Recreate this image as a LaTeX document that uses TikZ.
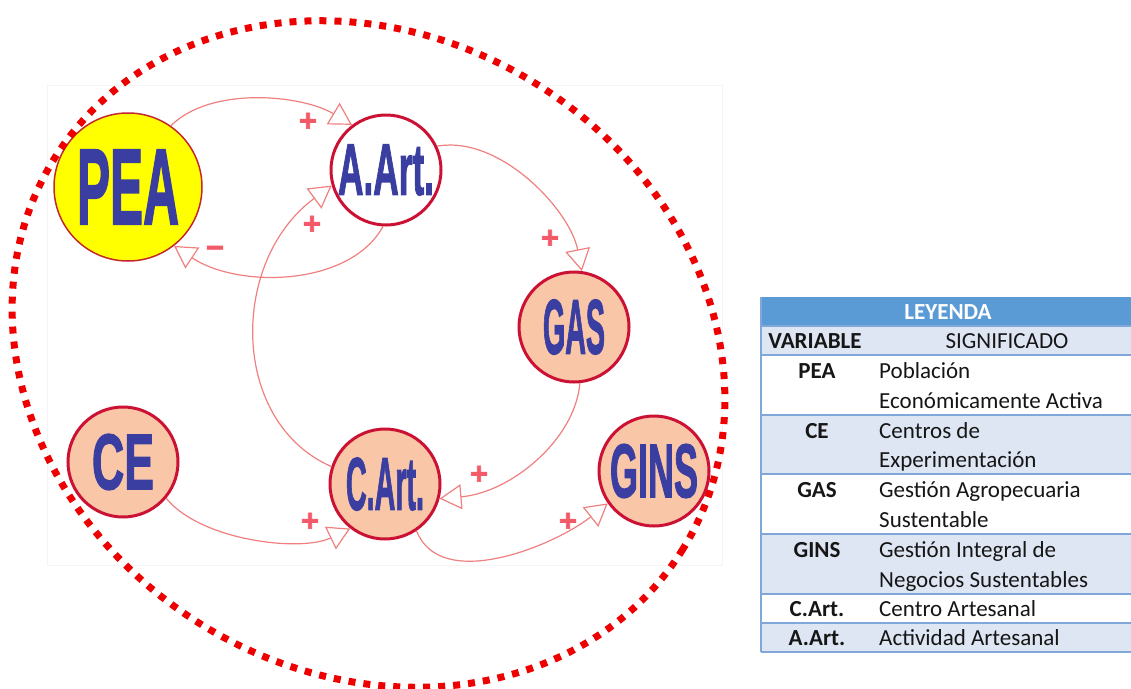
\documentclass[tikz,border=0pt]{standalone}
\usepackage{fontspec}
\setmainfont{Carlito}
\newfontfamily\nodefont{Liberation Sans}
\newfontfamily\heavyfont{Liberation Sans Bold}[FakeBold=2]
\usepackage{graphicx}
\usetikzlibrary{arrows.meta}
\definecolor{crim}{RGB}{204,18,52}
\definecolor{peach}{RGB}{250,198,168}
\definecolor{peayellow}{RGB}{255,255,0}
\definecolor{peaborder}{RGB}{196,40,40}
\definecolor{txtblue}{RGB}{57,62,160}
\definecolor{arrowc}{RGB}{240,128,128}
\definecolor{signc}{RGB}{242,90,104}
\definecolor{dotred}{RGB}{238,0,0}
\definecolor{hdrblue}{RGB}{91,155,213}
\definecolor{rowlight}{RGB}{222,230,243}
\definecolor{gridblue}{RGB}{128,166,218}
\definecolor{legtxt}{RGB}{22,22,22}
\definecolor{framegray}{RGB}{244,244,244}
\newcommand{\bigtxt}[3]{\resizebox{#1pt}{#2pt}{\heavyfont #3}}
\begin{document}
\begin{tikzpicture}[x=1pt,y=-1pt,
  varnode/.style={circle, draw=crim, line width=3pt, fill=peach, inner sep=0pt, minimum size=110pt, text=txtblue},
  link/.style={draw=arrowc, line width=1.2pt, -{Triangle[open, length=22pt, width=25pt]}},
  sign/.style={text=signc, inner sep=0pt, font=\heavyfont\fontsize{31}{31}\selectfont},
  legcell/.style={inner sep=0pt, text=legtxt, font=\fontsize{23}{23}\selectfont, anchor=base},
  legvar/.style={legcell, font=\bfseries\fontsize{23}{23}\selectfont},
  legdesc/.style={legcell, anchor=base west},
  gridline/.style={draw=gridblue, line width=2pt}
]
\useasboundingbox (0,0) rectangle (1131,688);
\fill[white] (0,0) rectangle (1131,688);

% faint frame of the diagram
\draw[framegray, line width=1pt] (47,85) rectangle (722,565);

% nodes
\node[circle, draw=peaborder, line width=1.5pt, fill=peayellow, inner sep=0pt, minimum size=148pt, text=txtblue] (PEA) at (128,187) {\bigtxt{102}{74}{PEA}};
\node[varnode, fill=white] (AArt) at (386,170) {\bigtxt{96}{50}{A.Art.}};
\node[varnode] (GAS) at (574,327) {\bigtxt{62}{54}{GAS}};
\node[varnode] (GINS) at (654,471) {\bigtxt{88}{53}{GINS}};
\node[varnode] (CArt) at (385,484) {\bigtxt{78}{52}{C.Art.}};
\node[varnode] (CE) at (123,462) {\bigtxt{62}{55}{CE}};

% connectors
\draw[link] (PEA.55) .. controls +(40,-40) and +(-50,-30) .. (AArt.127);
\draw[link] (AArt.267) .. controls +(-33,60) and +(65,43) .. (PEA.-52);
\draw[link] (CArt.162) .. controls +(-102,-45) and +(-102,75) .. (AArt.196);
\draw[link] (AArt.25) .. controls +(63,-11) and +(-12,-61) .. (GAS.82);
\draw[link] (GAS.-84) .. controls +(-5,57) and +(71,-6) .. (CArt.-15);
\draw[link] (CE.-40) .. controls +(34,42) and +(-50,24) .. (CArt.232);
\draw[link] (CArt.-56) .. controls +(24,62) and +(-53,42) .. (GINS.215);

% signs
\node[sign] (s1) at (308,122) {+};
\node[sign] (s2) at (215,252) {−};
\node[sign] (s3) at (312,225) {+};
\node[sign] (s4) at (550,239) {+};
\node[sign] (s5) at (479,475) {+};
\node[sign] (s6) at (310,522) {+};
\node[sign] (s7) at (568,522) {+};

% dotted boundary
\draw[dotred, line width=7pt, dash pattern=on 7pt off 8pt, rotate around={-31.8:(368.5,354)}]
  (368.5,354) ellipse [x radius=370, y radius=318];

% legend table
\fill[hdrblue] (761,297) rectangle (1131,326);
\fill[rowlight] (761,326) rectangle (1131,355);
\fill[white] (761,355) rectangle (1131,415);
\fill[rowlight] (761,415) rectangle (1131,474);
\fill[white] (761,474) rectangle (1131,534);
\fill[rowlight] (761,534) rectangle (1131,594);
\fill[white] (761,594) rectangle (1131,623);
\fill[rowlight] (761,623) rectangle (1131,652);
\foreach \yy in {326,355,415,474,534,594,623,652} {
  \draw[gridline] (761,\yy) -- (1131,\yy);
}
\draw[gridline] (761,297) -- (761,652);

\node[legvar, text=white] (hdr) at (948,319) {LEYENDA};
\node[legvar] (hvar) at (815,348) {VARIABLE};
\node[legcell] (hsig) at (1007,348) {SIGNIFICADO};

\node[legvar] (v1) at (817,378) {PEA};
\node[legdesc] (d1a) at (879,378) {Población};
\node[legdesc] (d1b) at (879,408) {Económicamente Activa};

\node[legvar] (v2) at (817,438) {CE};
\node[legdesc] (d2a) at (879,438) {Centros de};
\node[legdesc] (d2b) at (879,467) {Experimentación};

\node[legvar] (v3) at (817,497) {GAS};
\node[legdesc] (d3a) at (879,497) {Gestión Agropecuaria};
\node[legdesc] (d3b) at (879,527) {Sustentable};

\node[legvar] (v4) at (817,557) {GINS};
\node[legdesc] (d4a) at (879,557) {Gestión Integral de};
\node[legdesc] (d4b) at (879,587) {Negocios Sustentables};

\node[legvar] (v5) at (817,616) {C.Art.};
\node[legdesc] (d5) at (879,616) {Centro Artesanal};

\node[legvar] (v6) at (817,645) {A.Art.};
\node[legdesc] (d6) at (879,645) {Actividad Artesanal};
\end{tikzpicture}
\end{document}
